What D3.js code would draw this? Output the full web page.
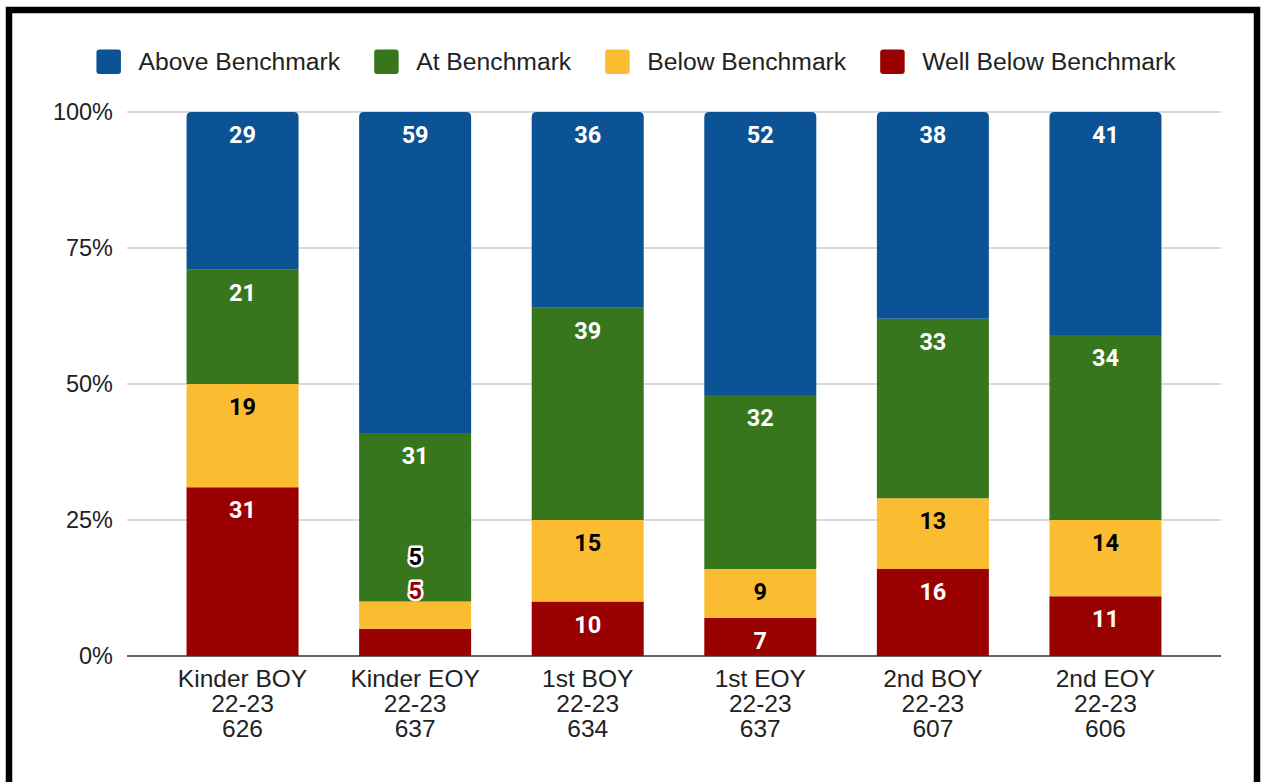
<!DOCTYPE html>
<html lang="en">
<head>
    <meta charset="UTF-8">
    <title>Benchmark chart</title>
    <script src="https://d3js.org/d3.v7.min.js"></script>
    <style>
        * {
            margin: 0;
            padding: 0;
            box-sizing: border-box;
        }
        body {
            background: white;
            font-family: Arial, "Liberation Sans", sans-serif;
        }
    </style>
</head>
<body>
    <div id="chart"></div>
    <script>
        // chart values
        const grades = ["Kinder BOY", "Kinder EOY", "1st BOY", "1st EOY", "2nd BOY", "2nd EOY"];
        const years = ["22-23", "22-23", "22-23", "22-23", "22-23", "22-23"];
        const counts = ["626", "637", "634", "637", "607", "606"];

        const seriesNames = ["Above Benchmark", "At Benchmark", "Below Benchmark", "Well Below Benchmark"];
        const aboveBenchmark = [29, 59, 36, 52, 38, 41];
        const atBenchmark = [21, 31, 39, 32, 33, 34];
        const belowBenchmark = [19, 5, 15, 9, 13, 14];
        const wellBelowBenchmark = [31, 5, 10, 7, 16, 11];

        const yTicks = [0, 0.25, 0.5, 0.75, 1];

        const colors = {
            "Above Benchmark": "#0b5394",
            "At Benchmark": "#38761d",
            "Below Benchmark": "#fbbc32",
            "Well Below Benchmark": "#990000"
        };
        const labelColors = {
            "Above Benchmark": "white",
            "At Benchmark": "white",
            "Below Benchmark": "black",
            "Well Below Benchmark": "white"
        };
        const outsideLabelColors = {
            "Above Benchmark": "#0b5394",
            "At Benchmark": "#38761d",
            "Below Benchmark": "black",
            "Well Below Benchmark": "#990000"
        };

        const W = 1263, H = 782;
        const margin = { left: 127, right: 1221, top: 112, bottom: 656 };

        const rows = grades.map((g, i) => ({
            grade: g,
            year: years[i],
            count: counts[i],
            "Above Benchmark": aboveBenchmark[i],
            "At Benchmark": atBenchmark[i],
            "Below Benchmark": belowBenchmark[i],
            "Well Below Benchmark": wellBelowBenchmark[i]
        }));

        // bottom to top
        const stackKeys = seriesNames.slice().reverse();
        const stacked = d3.stack()
            .keys(stackKeys)
            .offset(d3.stackOffsetExpand)(rows);

        const svg = d3.select("#chart")
            .append("svg")
            .attr("width", W)
            .attr("height", H)
            .style("display", "block");

        const x = d3.scaleBand()
            .domain(grades)
            .range([margin.left, margin.right])
            .paddingInner(0.351)
            .paddingOuter(0.345);

        const y = d3.scaleLinear()
            .domain([0, 1])
            .range([margin.bottom, margin.top]);

        // grid
        svg.append("g")
            .selectAll("line")
            .data(yTicks.filter(t => t > 0))
            .join("line")
            .attr("x1", margin.left)
            .attr("x2", margin.right)
            .attr("y1", d => y(d))
            .attr("y2", d => y(d))
            .attr("stroke", "#cccccc")
            .attr("stroke-width", 1.3);

        // y axis labels
        svg.append("g")
            .selectAll("text")
            .data(yTicks)
            .join("text")
            .attr("x", 113)
            .attr("y", d => y(d))
            .attr("dy", "0.35em")
            .attr("text-anchor", "end")
            .style("font-size", "23.5px")
            .attr("fill", "#222")
            .text(d => d3.format(".0%")(d));

        function roundedTop(x0, y0, w, h, r) {
            return `M${x0},${y0 + h} L${x0},${y0 + r} Q${x0},${y0} ${x0 + r},${y0}
                    L${x0 + w - r},${y0} Q${x0 + w},${y0} ${x0 + w},${y0 + r}
                    L${x0 + w},${y0 + h} Z`;
        }

        // bars
        const layers = svg.append("g")
            .selectAll("g")
            .data(stacked)
            .join("g")
            .attr("fill", d => colors[d.key]);

        layers.selectAll("path")
            .data(d => d.map(p => ({ key: d.key, p })))
            .join("path")
            .attr("d", d => {
                const x0 = x(d.p.data.grade);
                const y0 = y(d.p[1]);
                const h = y(d.p[0]) - y(d.p[1]);
                const r = d.key === seriesNames[0] ? 5 : 0;
                return roundedTop(x0, y0, x.bandwidth(), h, r);
            });

        // baseline
        svg.append("line")
            .attr("x1", margin.left)
            .attr("x2", margin.right)
            .attr("y1", margin.bottom)
            .attr("y2", margin.bottom)
            .attr("stroke", "#333")
            .attr("stroke-width", 1.6);

        // data labels
        const labels = svg.append("g")
            .style("font-family", "Roboto, Arial, sans-serif")
            .style("font-weight", "bold")
            .style("font-size", "23.5px")
            .attr("text-anchor", "middle");

        rows.forEach(row => {
            const cx = x(row.grade) + x.bandwidth() / 2;
            const segs = stacked.map(layer => {
                const p = layer.find(q => q.data.grade === row.grade);
                const yTop = y(p[1]);
                return { key: layer.key, value: row[layer.key], yTop, h: y(p[0]) - yTop };
            });
            const small = segs.filter(s => s.h < 32);
            // small segments: labels stacked above the run, with a white halo
            let base = small.length ? d3.min(small, s => s.yTop) - 2.5 : 0;
            segs.forEach(s => {
                const t = labels.append("text")
                    .attr("x", cx)
                    .text(s.value);
                if (s.h < 32) {
                    t.attr("y", base)
                        .attr("fill", outsideLabelColors[s.key])
                        .attr("stroke", "white")
                        .attr("stroke-width", 5)
                        .attr("stroke-linejoin", "round")
                        .style("paint-order", "stroke");
                    base -= 34;
                } else {
                    t.attr("y", s.yTop + 31)
                        .attr("fill", labelColors[s.key]);
                }
            });
        });

        // category labels
        const cat = svg.append("g")
            .style("font-size", "24.5px")
            .attr("fill", "#222")
            .attr("text-anchor", "middle");

        rows.forEach(row => {
            const cx = x(row.grade) + x.bandwidth() / 2;
            const t = cat.append("text")
                .attr("x", cx)
                .attr("y", 687);
            [row.grade, row.year, row.count].forEach((s, i) => {
                t.append("tspan")
                    .attr("x", cx)
                    .attr("dy", i === 0 ? 0 : 25)
                    .text(s);
            });
        });

        // legend
        const legend = svg.append("g")
            .style("font-size", "24.7px")
            .attr("fill", "#222");

        const items = legend.selectAll("g")
            .data(seriesNames)
            .join("g");

        items.append("rect")
            .attr("width", 24.5)
            .attr("height", 24.5)
            .attr("y", 49.5)
            .attr("rx", 3)
            .attr("fill", d => colors[d]);

        items.append("text")
            .attr("x", 42)
            .attr("y", 69.5)
            .text(d => d);

        const widths = [];
        items.each(function () {
            widths.push(42 + d3.select(this).select("text").node().getComputedTextLength());
        });
        const gap = 34;
        const total = d3.sum(widths) + gap * (widths.length - 1);
        let lx = 636 - total / 2;
        items.attr("transform", (d, i) => {
            const tr = `translate(${lx},0)`;
            lx += widths[i] + gap;
            return tr;
        });

        // frame
        svg.append("rect")
            .attr("x", 9)
            .attr("y", 10)
            .attr("width", 1248)
            .attr("height", 900)
            .attr("fill", "none")
            .attr("stroke", "black")
            .attr("stroke-width", 6.5);
    </script>
</body>
</html>
